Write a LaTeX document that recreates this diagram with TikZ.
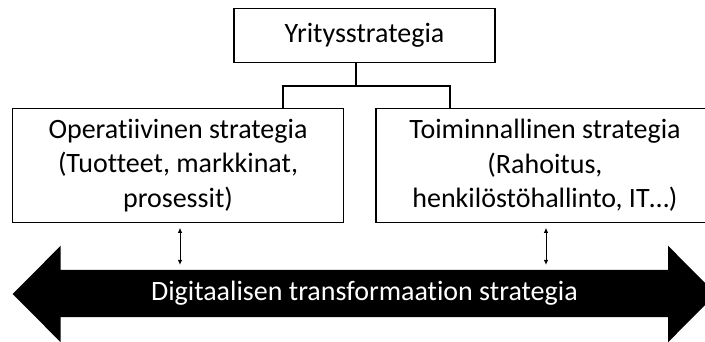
\documentclass[tikz,border=0pt]{standalone}
\usepackage{fontspec}
\setmainfont{Carlito}[Ligatures=NoCommon]
\usetikzlibrary{arrows.meta, positioning, calc}

\begin{document}
\begin{tikzpicture}[x=1pt, y=-1pt,
    box/.style={draw, line width=1.4pt, align=center, inner sep=0pt,
      font=\fontsize{28}{34.5}\selectfont},
    biarrow/.style={{Latex[length=5pt, width=4.5pt]}-{Latex[length=5pt, width=4.5pt]}, line width=0.8pt},
    tree/.style={line width=1.4pt}]
  \useasboundingbox (0,0) rectangle (705,342);
  \clip (0,0) rectangle (705,342);

  % Top level
  \node[box, minimum width=261pt, minimum height=54pt] (yritys) at (364.5,35.3) {Yritysstrategia};

  % Second level
  \node[box, minimum width=330.6pt, minimum height=114.4pt] (oper) at (178,165.5)
    {Operatiivinen strategia\\(Tuotteet, markkinat,\\prosessit)};
  \node[box, minimum width=338pt, minimum height=114.4pt] (toim) at (545,165.5)
    {Toiminnallinen strategia\\(Rahoitus,\\henkilöstöhallinto, IT…)};

  % Tree lines
  \coordinate (haara) at (356,86);
  \draw[tree] (yritys.south -| haara) -- (haara);
  \draw[tree] (oper.north -| 283,0) -- (283,86) -- (450,86) -- (toim.north -| 450,0);

  % Big double arrow
  \fill[black] (12.7,294) -- (60.7,245.7) -- (60.7,270) -- (668,270) -- (668,245.7)
    -- (716,294) -- (668,342.3) -- (668,317) -- (60.7,317) -- (60.7,342.3) -- cycle;
  \node[text=white, minimum width=607pt, minimum height=47pt, inner sep=0pt,
    font=\fontsize{28}{34.5}\selectfont] (digi) at (364.4,293.5)
    {Digitaalisen transformaation strategia};

  % Links to the band
  \draw[biarrow] ($(oper.south)+(2,4.5)$) -- ($(oper.south |- digi.north)+(2,-5)$);
  \draw[biarrow] ($(toim.south)+(1,4.5)$) -- ($(toim.south |- digi.north)+(1,-5)$);
\end{tikzpicture}
\end{document}
